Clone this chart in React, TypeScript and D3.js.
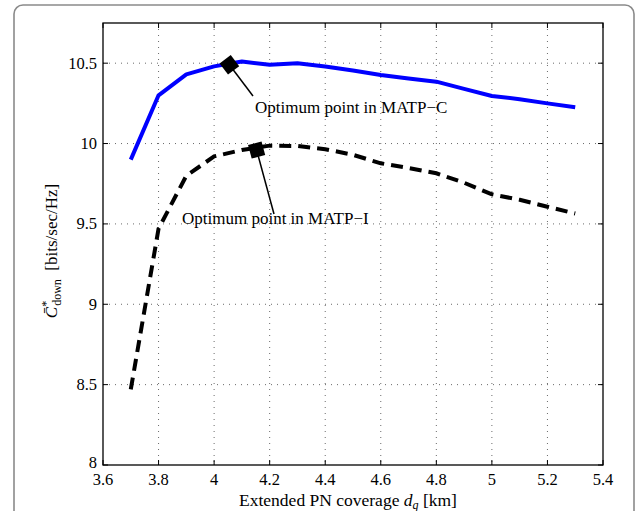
import React, { useEffect, useRef } from "react";
import * as d3 from "d3";

// extended PN coverage d_q [km]
const coverage = [3.7, 3.8, 3.9, 4.0, 4.1, 4.2, 4.3, 4.4, 4.5, 4.6, 4.7, 4.8, 4.9, 5.0, 5.1, 5.2, 5.3];
const matpC = [9.9, 10.3, 10.43, 10.48, 10.51, 10.49, 10.5, 10.48, 10.455, 10.427, 10.405, 10.385, 10.34, 10.296, 10.276, 10.25, 10.226];
const matpI = [8.47, 9.47, 9.8, 9.92, 9.96, 9.987, 9.985, 9.965, 9.93, 9.877, 9.848, 9.815, 9.756, 9.684, 9.65, 9.607, 9.565];

const xTicks = [3.6, 3.8, 4, 4.2, 4.4, 4.6, 4.8, 5, 5.2, 5.4];
const yTicks = [8, 8.5, 9, 9.5, 10, 10.5];

// optimum points [x, y] and their labels
const optC = [4.055, 10.49];
const optI = [4.153, 9.96];
const labelC = "Optimum point in MATP\u2212C";
const labelI = "Optimum point in MATP\u2212I";

const W = 637, H = 511;
const margin = { top: 23, right: 34, bottom: 46, left: 103 };

function App() {
  const ref = useRef<SVGSVGElement>(null);

  useEffect(() => {
    const svg = d3.select(ref.current);
    svg.selectAll("*").remove();
    const font = "Liberation Serif";

    const x0 = margin.left, x1 = W - margin.right;
    const y0 = margin.top, y1 = H - margin.bottom;

    const x = d3.scaleLinear().domain([3.6, 5.4]).range([x0, x1]);
    const y = d3.scaleLinear().domain([8, 10.75]).range([y1, y0]);

    // outer frame
    svg.append("rect")
      .attr("x", 14).attr("y", 5)
      .attr("width", 620).attr("height", 530)
      .attr("rx", 9)
      .attr("fill", "white")
      .attr("stroke", "#8a8a8a")
      .attr("stroke-width", 1.6);

    const g = svg.append("g").style("font-family", font);

    // grid
    g.selectAll(".gx").data(xTicks.slice(1, -1)).enter().append("line")
      .attr("x1", d => x(d)).attr("x2", d => x(d))
      .attr("y1", y0).attr("y2", y1)
      .attr("stroke", "#444").attr("stroke-width", 0.8)
      .attr("stroke-dasharray", "1,5");
    g.selectAll(".gy").data(yTicks.slice(1)).enter().append("line")
      .attr("y1", d => y(d)).attr("y2", d => y(d))
      .attr("x1", x0).attr("x2", x1)
      .attr("stroke", "#444").attr("stroke-width", 0.8)
      .attr("stroke-dasharray", "1,5");

    // ticks inside on all sides
    const tl = 5;
    xTicks.forEach(t => {
      g.append("line").attr("x1", x(t)).attr("x2", x(t)).attr("y1", y1).attr("y2", y1 - tl).attr("stroke", "black");
      g.append("line").attr("x1", x(t)).attr("x2", x(t)).attr("y1", y0).attr("y2", y0 + tl).attr("stroke", "black");
    });
    yTicks.forEach(t => {
      g.append("line").attr("y1", y(t)).attr("y2", y(t)).attr("x1", x0).attr("x2", x0 + tl).attr("stroke", "black");
      g.append("line").attr("y1", y(t)).attr("y2", y(t)).attr("x1", x1).attr("x2", x1 - tl).attr("stroke", "black");
    });

    // box
    g.append("rect")
      .attr("x", x0).attr("y", y0)
      .attr("width", x1 - x0).attr("height", y1 - y0)
      .attr("fill", "none").attr("stroke", "black").attr("stroke-width", 1.3);

    // tick labels
    g.selectAll(".xl").data(xTicks).enter().append("text")
      .attr("x", d => x(d)).attr("y", y1 + 20)
      .attr("text-anchor", "middle")
      .attr("font-size", 16.5)
      .text(d => d3.format("")(d));
    g.selectAll(".yl").data(yTicks).enter().append("text")
      .attr("x", x0 - 6).attr("y", d => y(d) + (d === 8 ? 3 : 5.5))
      .attr("text-anchor", "end")
      .attr("font-size", 16.5)
      .text(d => d3.format("")(d));

    // series
    const line = d3.line<number>()
      .x((d, i) => x(coverage[i]))
      .y(d => y(d));

    g.append("path").datum(matpC)
      .attr("d", line)
      .attr("fill", "none").attr("stroke", "#0000ff")
      .attr("stroke-width", 4).attr("stroke-linejoin", "round");

    g.append("path").datum(matpI)
      .attr("d", line)
      .attr("fill", "none").attr("stroke", "black")
      .attr("stroke-width", 4).attr("stroke-dasharray", "12,7");

    // annotations
    const annot = (pt: number[], lx: number, ly: number, tx: number, ty: number, label: string) => {
      const px = x(pt[0]), py = y(pt[1]);
      const ang = Math.atan2(ly - py, lx - px) * 180 / Math.PI;
      g.append("line")
        .attr("x1", px).attr("y1", py).attr("x2", lx).attr("y2", ly)
        .attr("stroke", "black").attr("stroke-width", 1.5);
      g.append("rect")
        .attr("x", -7).attr("y", -7).attr("width", 14).attr("height", 14)
        .attr("fill", "black")
        .attr("transform", `translate(${px},${py}) rotate(${ang})`);
      g.append("text")
        .attr("x", tx).attr("y", ty)
        .attr("font-size", 17)
        .text(label);
    };
    annot(optC, 253, 96, 255, 112.5, labelC);
    annot(optI, 274, 214, 182, 224, labelI);

    // x label
    const xl = g.append("text")
      .attr("x", 348).attr("y", 506)
      .attr("text-anchor", "middle")
      .attr("font-size", 17.5);
    xl.append("tspan").text("Extended PN coverage ");
    xl.append("tspan").attr("font-style", "italic").text("d");
    xl.append("tspan").attr("font-style", "italic").attr("font-size", 12).attr("dy", 3).text("q");
    xl.append("tspan").attr("dy", -3).text(" [km]");

    // y label
    const yl = g.append("text")
      .attr("transform", `translate(57,251) rotate(-90)`)
      .attr("text-anchor", "middle")
      .attr("font-size", 17);
    yl.append("tspan").attr("font-style", "italic").text("C\u0304");
    yl.append("tspan").attr("font-size", 12).attr("dy", -7).text("*");
    yl.append("tspan").attr("font-size", 12).attr("dy", 11).attr("dx", -5).text("down");
    yl.append("tspan").attr("dy", -4).text("\u2002[bits/sec/Hz]");
  }, []);

  return (
    <svg ref={ref} width={W} height={H}
      style={{ position: "absolute", left: 0, top: 0, background: "white" }} />
  );
}

export default App;
